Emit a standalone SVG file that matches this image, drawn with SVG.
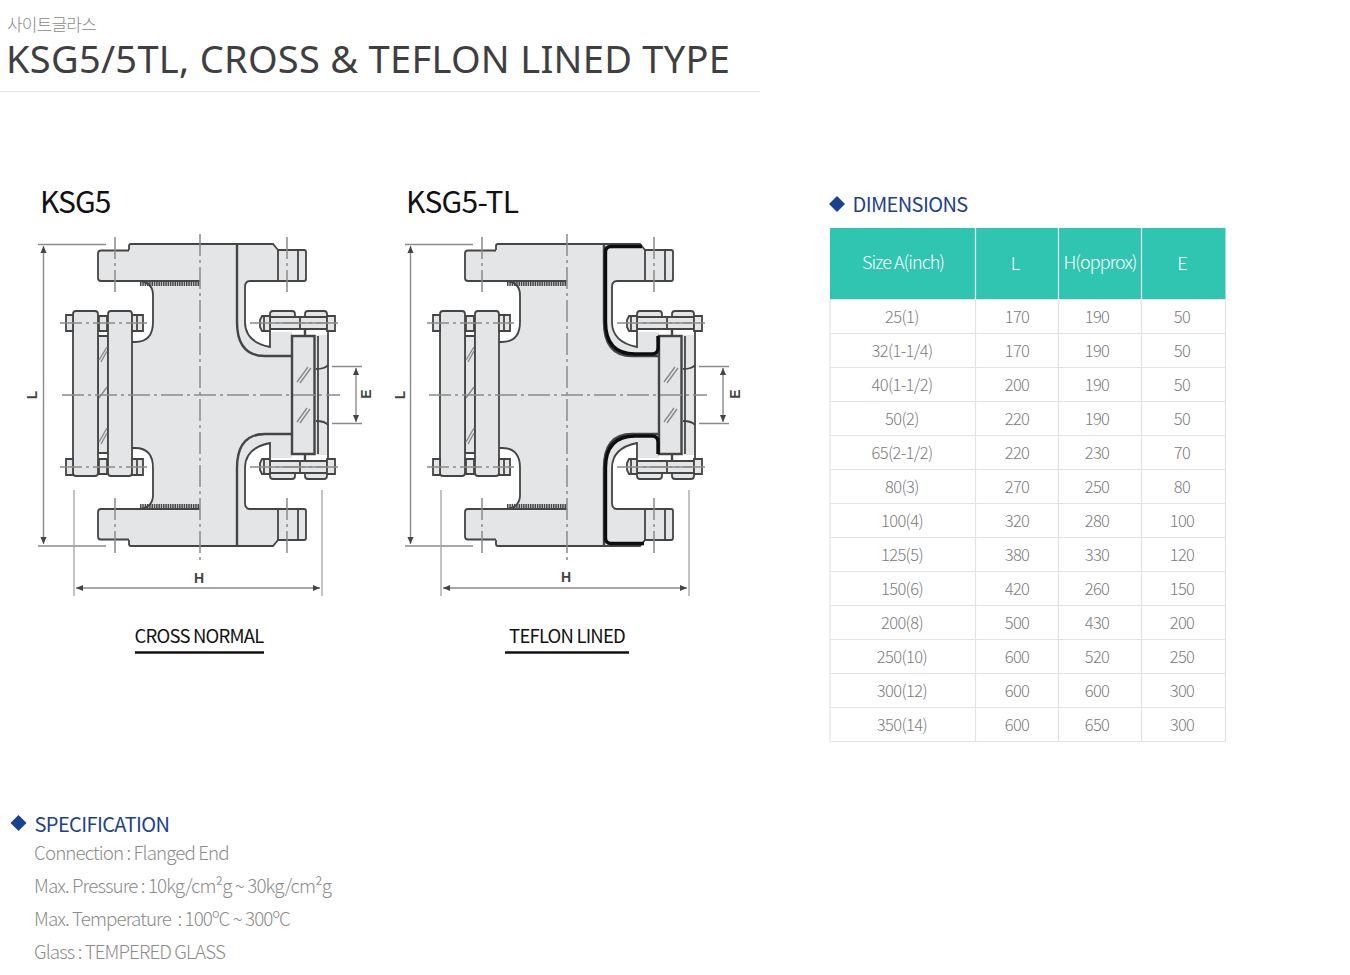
<svg xmlns="http://www.w3.org/2000/svg" width="1350" height="975" viewBox="0 0 1350 975">
<style>
text{font-family:"Noto Sans CJK KR","Noto Sans",sans-serif}
.r{font-size:16.5px;fill:#7b7b7b;text-anchor:middle;letter-spacing:-.6px;font-weight:300}
.h{font-size:18px;fill:#fff;text-anchor:middle;letter-spacing:-.95px;font-weight:300}
.s{font-size:18.8px;fill:#8c8c8c;letter-spacing:-.9px;font-weight:300}
.b{font-size:20px;fill:#1c428f;letter-spacing:-.6px}
.t{font-size:30px;fill:#111;letter-spacing:-1px}
.c{font-size:18.5px;fill:#111;text-anchor:middle;letter-spacing:-.8px}
.d{font-size:14px;fill:#444;font-weight:700;text-anchor:middle;font-family:"Liberation Sans",sans-serif}
.o{fill:none;stroke:#444;stroke-width:1.8}
.k{fill:none;stroke:#444;stroke-width:2.4}
.g{fill:#e4e5e7;stroke:#444;stroke-width:1.8}
.a{fill:none;stroke:#8a8a8a;stroke-width:1.4}
.x{fill:none;stroke:#8a8a8a;stroke-width:1.5;stroke-dasharray:22 4 3 4}
.w{fill:none;stroke:#aaa;stroke-width:1.4}
.l{stroke:#e3e3e3;stroke-width:1.2;fill:none}
.f{fill:none;stroke:#111;stroke-width:3.4}
</style>
<defs>
<filter id="soft" x="-5%" y="-5%" width="110%" height="110%"><feGaussianBlur stdDeviation="0.5"/></filter>
<marker id="ar" markerWidth="6" markerHeight="6" refX="5" refY="3" orient="auto-start-reverse"><path d="M0 .8L5 3L0 5.2Z" fill="#444"/></marker>
<g id="half">
<path fill="#e4e5e7" d="M129 244H273L278 250H306V281H245V322Q245 340 270 347V332H292V335H328V395H133V342Q153 342 153 322V295Q153 283 140 281H98V251H129Z"/>
<path class="o" d="M129 250V246Q129 244 131 244H273L278 250"/>
<path class="o" d="M129 250.500H101Q98 250.500 98 253.500V278Q98 281 101 281H200"/>
<path class="o" d="M140 281Q153 283 153 295V322Q153 342 135 342H132"/>
<path fill="none" stroke="#444" stroke-width="4" stroke-dasharray="1.500 .8" d="M140 284H200"/>
<path class="o" d="M278 250H304Q306 250 306 252V279Q306 281 304 281H250Q245 281 245 287V322Q245 342 270 347V332"/>
<path class="o" d="M278 250V281M298 250V281"/>
<path class="k" d="M237 245V322Q237 356 265 356H292"/>
<path class="k" d="M292 395V336H305V329M314.500 395V336H305"/>
<path class="o" d="M318 395V336M328 395V329"/>
<path class="o" d="M316 369Q325 369 328 365"/>
<path class="g" d="M270 328V314Q270 311 273 311H292Q295 311 295 314V328ZM305 328V314Q305 311 308 311H324Q327 311 327 314V328Z"/>
<path class="g" d="M270 317H300V329H270ZM300 317H327V329H300Z"/>
<path class="g" d="M260 320L262 316H270V331H262L260 327ZM327 316H335V331H327Z"/>
<path class="o" d="M264 316V331"/>
<path class="a" d="M272 323H300M302 323H325"/>
<path class="x" d="M250 323H340"/>
<path class="x" d="M115 237V295M287 237V295" stroke-dasharray="18 4 3 4"/>
<path class="g" d="M66 315H73V331H66ZM132 315H143V331H132ZM99 316H107V331H99Z"/>
<path class="o" d="M137 315V331"/>
<path class="x" d="M60 323H147"/>
</g>
<g id="glass">
<path class="a" d="M297 382L308 367M300 383L311 368M297 422L307 408M300 423L310 409M99 360L107 347M101 362L107 351M99 398L107 387M99 442L107 428M101 444L107 433"/>
</g>
<g id="valve">
<path class="g" d="M98 336H108V453H98Z"/>
<path class="g" d="M76 311H95Q98 311 98 314V473Q98 476 95 476H76Q73 476 73 473V314Q73 311 76 311ZM111 311H129Q132 311 132 314V473Q132 476 129 476H111Q108 476 108 473V314Q108 311 111 311Z"/>
<use href="#half"/>
<use href="#half" transform="matrix(1 0 0 -1 0 790)"/>
<use href="#glass"/>
<path class="x" d="M200 234V560"/>
<path class="x" d="M62 395H340"/>
<path class="a" d="M38 244.500H106M38 546H106"/>
<path class="a" d="M43.500 246V544" marker-start="url(#ar)" marker-end="url(#ar)"/>
<path class="a" d="M332 366.500H362M332 423.500H362"/>
<path class="a" d="M356 368V422" marker-start="url(#ar)" marker-end="url(#ar)"/>
<path class="w" d="M74 490V596M322 490V596"/>
<path class="a" d="M76 588H320" marker-start="url(#ar)" marker-end="url(#ar)"/>
</g>
</defs>
<g id="header">
<text x="7" y="31" fill="#8a8a8a" font-weight="300" letter-spacing="-.8" style="font-size:17px">사이트글라스</text>
<text id="title" x="6" y="73" style="font-family:'Noto Sans',sans-serif;font-size:38px;letter-spacing:.29px" fill="#3f3f3f">KSG5/5TL, CROSS &amp; TEFLON LINED TYPE</text>
<path d="M0 91.500H760" stroke="#e4e4e4" stroke-width="1"/>
</g>
<g id="ksg5">
<text class="t" x="40" y="213">KSG5</text>
<use href="#valve" filter="url(#soft)"/>
<text class="d" transform="translate(37 395) rotate(-90)">L</text>
<text class="d" transform="translate(371 394) rotate(-90)">E</text>
<text class="d" x="199" y="583">H</text>
<text class="c" x="199" y="643">CROSS NORMAL</text>
<path d="M135 652.500H264" stroke="#111" stroke-width="2.500"/>
</g>
<g id="ksg5-tl">
<text class="t" x="406" y="213" style="letter-spacing:-.7px">KSG5-TL</text>
<g filter="url(#soft)">
<use href="#valve" x="367"/>
<path class="f" d="M642 246.500H611Q605.500 246.500 605.500 252V322Q605.500 354 635 354H652Q658 354 658 348V336"/>
<path class="f" d="M644 543.500H611Q605.500 543.500 605.500 538V468Q605.500 436 635 436H652Q658 436 658 442V454"/>
</g>
<text class="d" transform="translate(405 395) rotate(-90)">L</text>
<text class="d" transform="translate(740 394) rotate(-90)">E</text>
<text class="d" x="566" y="582">H</text>
<text class="c" x="567" y="643">TEFLON LINED</text>
<path d="M505 652.500H629" stroke="#111" stroke-width="2.500"/>
</g>
<g id="dimensions">
<path d="M837 196L845 204L837 212L829 204Z" fill="#1c428f"/>
<text class="b" x="852.500" y="212">DIMENSIONS</text>
<rect x="830" y="228" width="395.500" height="71" fill="#30c5b0"/>
<path d="M975.500 228V299M1058.500 228V299M1141.500 228V299" stroke="#e9f8f5" stroke-width="1.200"/>
<text class="h" x="903" y="269">Size A(inch)</text>
<text class="h" x="1015" y="270">L</text>
<text class="h" x="1100" y="269">H(opprox)</text>
<text class="h" x="1182" y="270">E</text>
<path class="l" d="M830 299.500H1225.500M830 333.500H1225.500M830 367.500H1225.500M830 401.500H1225.500M830 435.500H1225.500M830 469.500H1225.500M830 503.500H1225.500M830 537.500H1225.500M830 571.500H1225.500M830 605.500H1225.500M830 639.500H1225.500M830 673.500H1225.500M830 707.500H1225.500M830 741.500H1225.500M830 299V742M975.500 299V742M1058.500 299V742M1141.500 299V742M1225.500 299V742"/>
<g id="rows">
<text class="r" x="902" y="323">25(1)</text><text class="r" x="1017" y="323">170</text><text class="r" x="1097" y="323">190</text><text class="r" x="1182" y="323">50</text>
<text class="r" x="902" y="357">32(1-1/4)</text><text class="r" x="1017" y="357">170</text><text class="r" x="1097" y="357">190</text><text class="r" x="1182" y="357">50</text>
<text class="r" x="902" y="391">40(1-1/2)</text><text class="r" x="1017" y="391">200</text><text class="r" x="1097" y="391">190</text><text class="r" x="1182" y="391">50</text>
<text class="r" x="902" y="425">50(2)</text><text class="r" x="1017" y="425">220</text><text class="r" x="1097" y="425">190</text><text class="r" x="1182" y="425">50</text>
<text class="r" x="902" y="459">65(2-1/2)</text><text class="r" x="1017" y="459">220</text><text class="r" x="1097" y="459">230</text><text class="r" x="1182" y="459">70</text>
<text class="r" x="902" y="493">80(3)</text><text class="r" x="1017" y="493">270</text><text class="r" x="1097" y="493">250</text><text class="r" x="1182" y="493">80</text>
<text class="r" x="902" y="527">100(4)</text><text class="r" x="1017" y="527">320</text><text class="r" x="1097" y="527">280</text><text class="r" x="1182" y="527">100</text>
<text class="r" x="902" y="561">125(5)</text><text class="r" x="1017" y="561">380</text><text class="r" x="1097" y="561">330</text><text class="r" x="1182" y="561">120</text>
<text class="r" x="902" y="595">150(6)</text><text class="r" x="1017" y="595">420</text><text class="r" x="1097" y="595">260</text><text class="r" x="1182" y="595">150</text>
<text class="r" x="902" y="629">200(8)</text><text class="r" x="1017" y="629">500</text><text class="r" x="1097" y="629">430</text><text class="r" x="1182" y="629">200</text>
<text class="r" x="902" y="663">250(10)</text><text class="r" x="1017" y="663">600</text><text class="r" x="1097" y="663">520</text><text class="r" x="1182" y="663">250</text>
<text class="r" x="902" y="697">300(12)</text><text class="r" x="1017" y="697">600</text><text class="r" x="1097" y="697">600</text><text class="r" x="1182" y="697">300</text>
<text class="r" x="902" y="731">350(14)</text><text class="r" x="1017" y="731">600</text><text class="r" x="1097" y="731">650</text><text class="r" x="1182" y="731">300</text>
</g>
</g>
<g id="specification">
<path d="M18.500 815L26.500 823L18.500 831L10.500 823Z" fill="#1c428f"/>
<text class="b" x="34.500" y="832">SPECIFICATION</text>
<text class="s" x="34" y="860">Connection : Flanged End</text>
<text class="s" x="34" y="893">Max. Pressure : 10kg/cm²g ~ 30kg/cm²g</text>
<text class="s" x="34" y="926" xml:space="preserve">Max. Temperature  : 100ºC ~ 300ºC</text>
<text class="s" x="34" y="959">Glass : TEMPERED GLASS</text>
</g>
</svg>
